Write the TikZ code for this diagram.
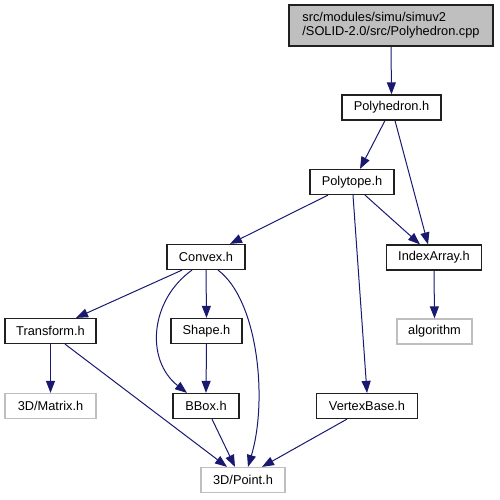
\documentclass[tikz,border=0pt]{standalone}
\usepackage{fontspec}
\setmainfont{Liberation Sans}
\usetikzlibrary{arrows.meta}
\definecolor{edgecol}{HTML}{191970}
\definecolor{boxgray}{HTML}{BFBFBF}
\definecolor{bordergray}{HTML}{202020}
\tikzset{
  box/.style={draw=bordergray, line width=1.2pt, minimum height=25pt, inner sep=0pt,
    font=\fontsize{12.8}{14}\selectfont, fill=white},
  extbox/.style={box, draw=boxgray},
  edge/.style={draw=edgecol, line width=1pt, -{Triangle[length=12pt,width=9pt]}}
}
\begin{document}
\begin{tikzpicture}[x=1pt,y=-1pt]
\useasboundingbox (0,0) rectangle (499,500);
\node[box, fill=boxgray, draw=bordergray, minimum width=204pt, minimum height=41pt, align=left] (cpp) at (391,25.5) {src/modules/simu/simuv2\\/SOLID-2.0/src/Polyhedron.cpp};
\node[box, minimum width=99pt] (ph) at (391.5,107.5) {Polyhedron.h};
\node[box, minimum width=84pt] (pt) at (352,182) {Polytope.h};
\node[box, minimum width=78pt] (conv) at (206,257) {Convex.h};
\node[box, minimum width=95pt] (ia) at (434,257.5) {IndexArray.h};
\node[extbox, minimum width=75pt] (alg) at (434.5,331.5) {algorithm};
\node[box, minimum width=91pt] (tr) at (50.5,331) {Transform.h};
\node[box, minimum width=71pt] (sh) at (206.5,331) {Shape.h};
\node[extbox, minimum width=91pt] (mat) at (50.5,406) {3D/Matrix.h};
\node[box, minimum width=66pt] (bb) at (206,406) {BBox.h};
\node[box, minimum width=101pt] (vb) at (367,406) {VertexBase.h};
\node[extbox, minimum width=84pt] (p3) at (243,480) {3D/Point.h};

\draw[edge] (cpp.south) -- (ph.north);
\draw[edge] ([xshift=-6.5pt]ph.south) -- ([xshift=8pt]pt.north);
\draw[edge] ([xshift=3.5pt]ph.south) -- ([xshift=-6pt]ia.north);
\draw[edge] ([xshift=-24pt]pt.south) -- ([xshift=24pt]conv.north);
\draw[edge] ([xshift=13pt]pt.south) -- ([xshift=-14pt]ia.north);
\draw[edge] ([xshift=1pt]pt.south) -- (vb.north);
\draw[edge] (ia.south) -- (alg.north);
\draw[edge] ([xshift=-24pt]conv.south) -- ([xshift=25.5pt]tr.north);
\draw[edge] (conv.south) -- (sh.north);
\draw[edge] ([xshift=-14pt]conv.south) .. controls (150,300) and (145,360) .. ([xshift=-19pt]bb.north);
\draw[edge] ([xshift=12pt]conv.south) .. controls (258,300) and (268,400) .. ([xshift=5pt]p3.north);
\draw[edge] (tr.south) -- (mat.north);
\draw[edge] ([xshift=14.5pt]tr.south) -- ([xshift=-16pt]p3.north);
\draw[edge] (sh.south) -- (bb.north);
\draw[edge] ([xshift=6pt]bb.south) -- ([xshift=-8pt]p3.north);
\draw[edge] ([xshift=-20pt]vb.south) -- ([xshift=19pt]p3.north);
\end{tikzpicture}
\end{document}
